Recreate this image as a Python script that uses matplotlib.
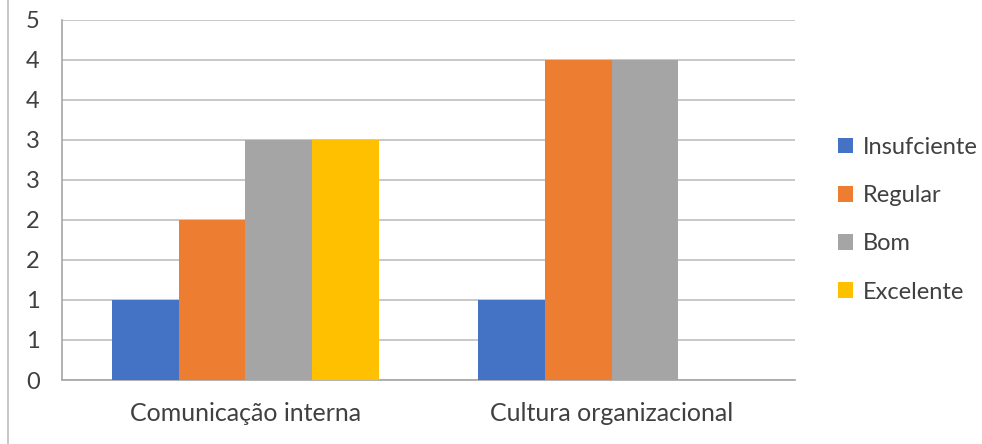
import math
import numpy as np
import matplotlib
matplotlib.use('Agg')
import matplotlib.pyplot as plt
from matplotlib.ticker import FuncFormatter, MultipleLocator

categorias = ['Comunicação interna', 'Cultura organizacional']
insuficiente = [1, 1]
regular = [2, 4]
bom = [3, 4]
excelente = [3, 0]

series = [
    ('Insufciente', insuficiente, '#4472C4'),
    ('Regular', regular, '#ED7D31'),
    ('Bom', bom, '#A5A5A5'),
    ('Excelente', excelente, '#FFC000'),
]

plt.rcParams['font.family'] = ['Lato', 'DejaVu Sans']
texto = '#404040'

fig = plt.figure(figsize=(9.82, 4.44), dpi=100)
ax = fig.add_axes([62 / 982, 64 / 444, 733 / 982, 360 / 444])

x = np.arange(len(categorias))
largura = 0.182
for i, (nome, valores, cor) in enumerate(series):
    ax.bar(x + (i - 1.5) * largura, valores, largura, color=cor, label=nome, zorder=3)

ax.set_xlim(-0.5, 1.5)
ax.set_ylim(0, 4.5)
ax.yaxis.set_major_locator(MultipleLocator(0.5))
# arredondamento estilo Excel (meio para cima)
ax.yaxis.set_major_formatter(FuncFormatter(lambda v, p: '%d' % math.floor(v + 0.5)))
ax.grid(axis='y', color='#BFBFBF', linewidth=1.2, zorder=0)

ax.set_xticks(x)
ax.set_xticklabels(categorias, fontsize=18)
ax.tick_params(axis='both', length=0, colors=texto)
ax.tick_params(axis='y', labelsize=17, pad=16)
ax.tick_params(axis='x', pad=16)

for lado in ['top', 'right']:
    ax.spines[lado].set_visible(False)
for lado in ['left', 'bottom']:
    ax.spines[lado].set_color('#A6A6A6')
    ax.spines[lado].set_linewidth(1.2)

leg = ax.legend(loc='center left', bbox_to_anchor=(1.03, 0.445), frameon=False,
                fontsize=17, handlelength=0.63, handleheight=0.63,
                handletextpad=0.4, labelspacing=1.15)
for t in leg.get_texts():
    t.set_color(texto)

# borda do gráfico à esquerda
fig.add_artist(plt.Line2D([7.5 / 982, 7.5 / 982], [0, 1], color='#BFBFBF', linewidth=1.2))

fig.savefig('out.png', dpi=100)
